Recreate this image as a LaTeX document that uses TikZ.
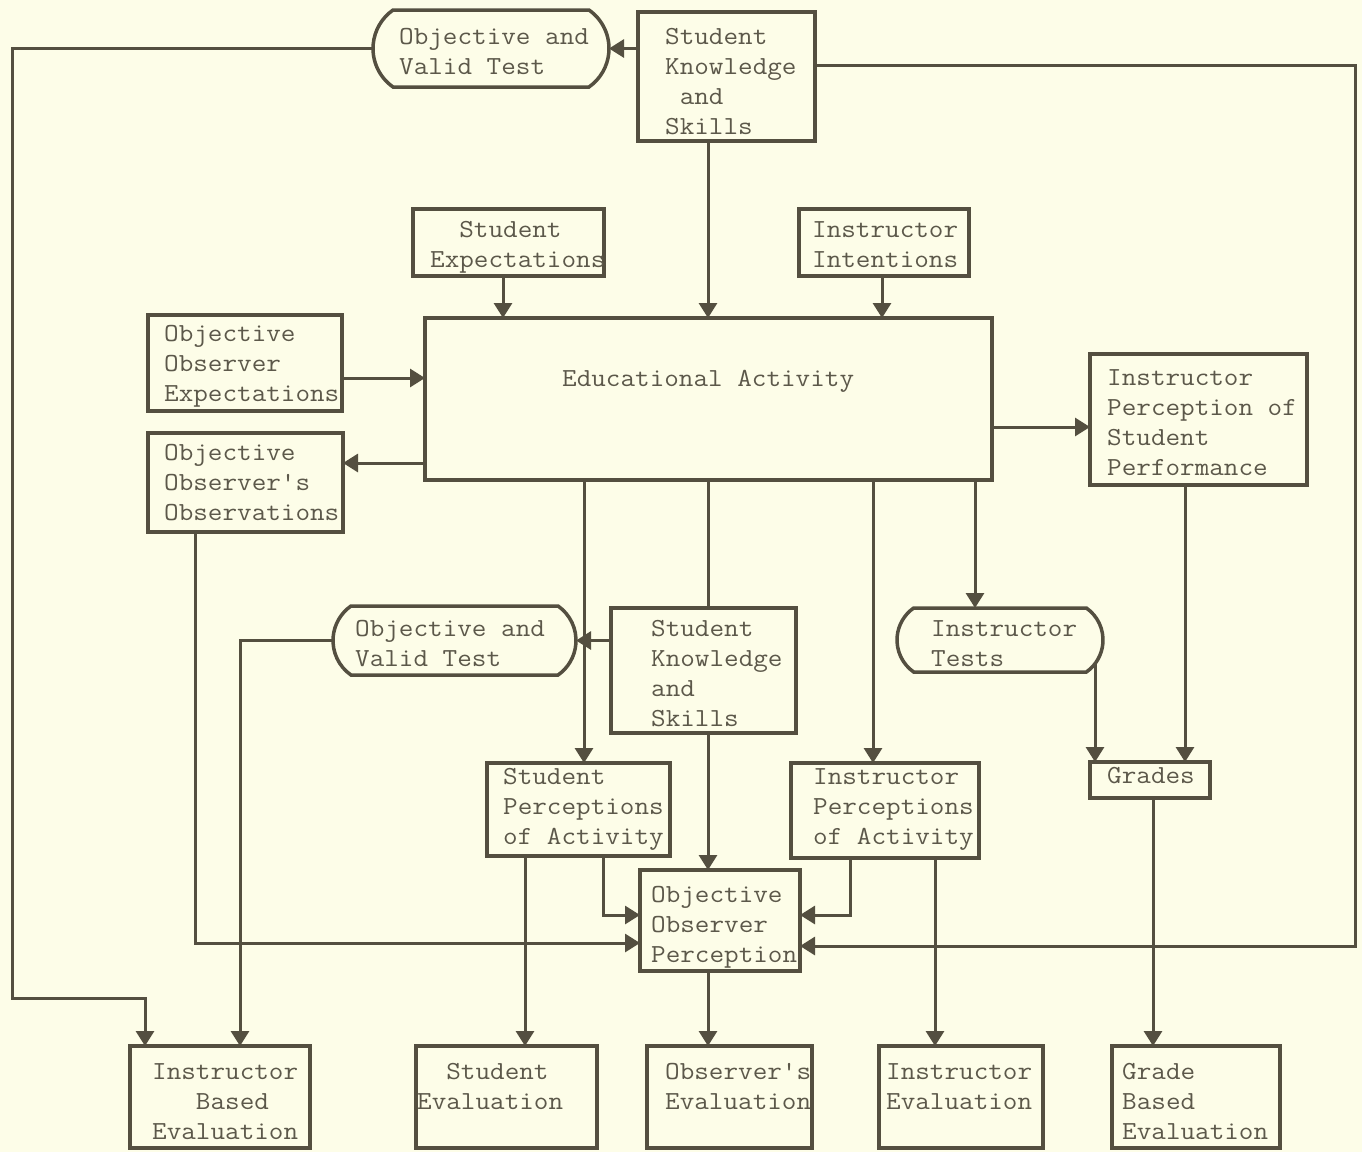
\documentclass[tikz,border=0pt]{standalone}
\usepackage{fontspec}
\usepackage{graphicx}
\usetikzlibrary{arrows.meta,shapes.misc}
\definecolor{paper}{RGB}{253,253,232}
\definecolor{ink}{RGB}{84,79,64}
\definecolor{typeink}{RGB}{92,88,74}
\pgfdeclarelayer{paperlayer}
\pgfdeclarelayer{wires}
\pgfsetlayers{paperlayer,wires,main}

% box from its corners: [style]{name}{x1}{y1}{x2}{y2}
\newcommand\boxnode[6][box]{%
  \node[#1, minimum width={#5-#3}, minimum height={#6-#4}] (#2)
    at ({(#3+#5)/2},{(#4+#6)/2}) {};}
% typed lines, left edge and first baseline given
\newcommand\boxtext[3]{%
  \node[txt, anchor=base west] at (#1,#2)
    {\scalebox{1.09}[1]{\vtop{\lineskiplimit=-100pt\halign{##\hfil\cr#3\crcr}}}};}

\tikzset{
  box/.style={draw=ink, line width=3.5pt, fill=paper, inner sep=0pt, outer sep=0pt, rectangle},
  rbox/.style={box, rounded rectangle, rounded rectangle arc length=110},
  txt/.style={font=\ttfamily\fontsize{26}{30}\selectfont, text=typeink, inner sep=0pt},
  wire/.style={draw=ink, line width=3pt},
  arr/.style={wire, -{Triangle[width=18pt,length=15pt]}},
}

\begin{document}
\begin{tikzpicture}[x=1pt, y=-1pt]
\begin{pgfonlayer}{paperlayer}
  \fill[paper] (0,0) rectangle (1362,1152);
\end{pgfonlayer}
\useasboundingbox (0,0) rectangle (1362,1152);

% ---- boxes ----
\boxnode[rbox]{ovt1}{373}{10}{609}{87}
\boxnode{sks1}{638}{12}{815}{141}
\boxnode{sexp}{413}{209}{604}{276}
\boxnode{iint}{799}{209}{969}{276}
\boxnode{act}{425}{318}{992}{480}
\boxnode{ooe}{148}{315}{342}{411}
\boxnode{ooo}{148}{433}{343}{532}
\boxnode{ipsp}{1090}{354}{1307}{485}
\boxnode[rbox]{ovt2}{333}{606}{576}{675}
\boxnode{sks2}{611}{608}{796}{733}
\boxnode[rbox]{itest}{897}{608}{1103}{672}
\boxnode{grades}{1090}{762}{1210}{798}
\boxnode{spa}{487}{763}{670}{856}
\boxnode{ipa}{791}{763}{979}{858}
\boxnode{oop}{640}{870}{800}{971}
\boxnode{ibe}{130}{1046}{310}{1148}
\boxnode{seval}{416}{1046}{597}{1148}
\boxnode{oeval}{647}{1046}{812}{1148}
\boxnode{ieval}{879}{1046}{1043}{1148}
\boxnode{gbe}{1112}{1046}{1280}{1148}

% ---- texts ----
\boxtext{399}{44}{Objective and\cr Valid Test}
\boxtext{665}{44}{Student\cr Knowledge\cr \phantom{S}and\cr Skills}
\boxtext{430}{237}{\phantom{Ex}Student\cr Expectations}
\boxtext{812}{237}{Instructor\cr Intentions}
\boxtext{562}{386}{Educational Activity}
\boxtext{164}{341}{Objective\cr Observer\cr Expectations}
\boxtext{164}{460}{Objective\cr Observer's\cr Observations}
\boxtext{1107}{385}{Instructor\cr Perception of\cr Student\cr Performance}
\boxtext{355}{636}{Objective and\cr Valid Test}
\boxtext{651}{636}{Student\cr Knowledge\cr and\cr Skills}
\boxtext{931}{636}{Instructor\cr Tests}
\boxtext{1107}{783}{Grades}
\boxtext{503}{784}{Student\cr Perceptions\cr of Activity}
\boxtext{813}{784}{Instructor\cr Perceptions\cr of Activity}
\boxtext{651}{902}{Objective\cr Observer\cr Perception}
\boxtext{152}{1079}{Instructor\cr \phantom{Ins}Based\cr Evaluation}
\boxtext{417}{1079}{\phantom{Ev}Student\cr Evaluation}
\boxtext{665}{1079}{Observer's\cr Evaluation}
\boxtext{886}{1079}{Instructor\cr Evaluation}
\boxtext{1122}{1079}{Grade\cr Based\cr Evaluation}

% ---- connectors ----
\begin{pgfonlayer}{wires}
  % top row
  \draw[arr] (sks1.west |- ovt1.east) -- (ovt1.east);
  \draw[arr] (ovt1.west) -| (12,998) -| ([xshift=-75pt]ibe.north);
  \draw[arr] ([yshift=11.5pt]sks1.east) -| (1355,946) -- ([yshift=-25.5pt]oop.east);
  \coordinate (k1) at ([xshift=-18.5pt]sks1.south);
  \draw[arr] (k1) -- (k1 |- act.north);
  \coordinate (k2) at ([xshift=-5.5pt]sexp.south);
  \draw[arr] (k2) -- (k2 |- act.north);
  \coordinate (k3) at ([xshift=-2pt]iint.south);
  \draw[arr] (k3) -- (k3 |- act.north);
  % sides of the activity
  \coordinate (k4) at ([yshift=-15pt]ooe.east);
  \draw[arr] (k4) -- (k4 -| act.west);
  \coordinate (k5) at ([yshift=19.5pt]ooo.east);
  \draw[arr] (k5 -| act.west) -- (k5);
  \coordinate (k6) at ([yshift=-7.5pt]ipsp.west);
  \draw[arr] (k6 -| act.east) -- (k6);
  \draw[arr] ([xshift=-50.5pt]ooo.south) |- ([yshift=-22.5pt]oop.west);
  \draw[arr] ([xshift=-13.5pt]ipsp.south) -- ([xshift=35pt]grades.north);
  % below the activity
  \coordinate (k7) at ([xshift=5.5pt]spa.north);
  \draw[arr] (k7 |- act.south) -- (k7);
  \coordinate (k8) at ([xshift=4.5pt]sks2.north);
  \draw[wire] (k8 |- act.south) -- (k8);
  \coordinate (k9) at ([xshift=-12pt]ipa.north);
  \draw[arr] (k9 |- act.south) -- (k9);
  \coordinate (k10) at ([xshift=-25pt]itest.north);
  \draw[arr] (k10 |- act.south) -- (k10);
  % second tier
  \draw[arr] (sks2.west |- ovt2.east) -- (ovt2.east);
  \draw[arr] (ovt2.west) -| ([xshift=20pt]ibe.north);
  \draw[arr] ([xshift=4.5pt]sks2.south) -- ([xshift=-12pt]oop.north);
  \coordinate (k11) at ([xshift=-55pt]grades.north);
  \draw[arr] (k11 |- itest.east) -- (k11);
  \draw[arr] ([xshift=3pt]grades.south) -- ([xshift=-43pt]gbe.north);
  % perceptions
  \draw[arr] ([xshift=-53.5pt]spa.south) -- ([xshift=18.5pt]seval.north);
  \draw[arr] ([xshift=24.5pt]spa.south) |- ([yshift=5.5pt]oop.west);
  \draw[arr] ([xshift=-35pt]ipa.south) |- ([yshift=5.5pt]oop.east);
  \draw[arr] ([xshift=50pt]ipa.south) -- ([xshift=-26pt]ieval.north);
  \draw[arr] ([xshift=-12pt]oop.south) -- ([xshift=-21.5pt]oeval.north);
\end{pgfonlayer}
\end{tikzpicture}
\end{document}
